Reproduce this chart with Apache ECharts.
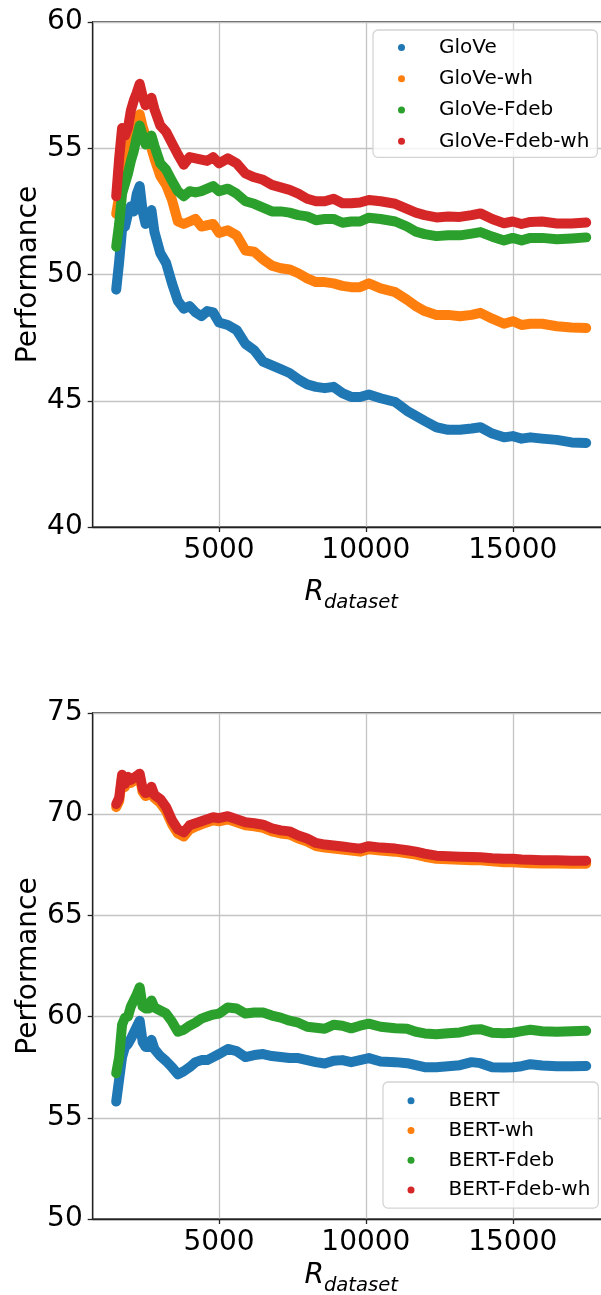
<!DOCTYPE html>
<html>
<head>
<meta charset="utf-8">
<script src="https://cdn.jsdelivr.net/npm/echarts@6/dist/echarts.min.js"></script>
<style>
  html, body { margin: 0; padding: 0; background: #fff; }
  #chart { width: 601px; height: 1295px; }
</style>
</head>
<body>
<div id="chart"></div>
<script>
// Running performance as the dataset grows (R_dataset on the x axis)
const rDataset = [1500, 1600, 1700, 1800, 1900, 2000, 2100, 2200, 2300, 2400, 2500, 2600, 2700, 2800,
  3000, 3200, 3400, 3600, 3800, 4000, 4200, 4400, 4600, 4800, 5000, 5300, 5600, 5900, 6200, 6500,
  6800, 7100, 7400, 7700, 8000, 8300, 8600, 8900, 9200, 9500, 9800, 10100, 10500, 11000, 11400,
  11700, 12000, 12400, 12800, 13200, 13600, 13900, 14300, 14700, 15000, 15300, 15600, 16000,
  16500, 17000, 17500];

// GloVe panel
const glove = [49.4, 50.5, 51.8, 51.9, 52.4, 52.7, 52.5, 53.2, 53.5, 52.5, 52.0, 52.2, 52.55, 51.7,
  50.85, 50.45, 49.65, 48.95, 48.65, 48.75, 48.5, 48.35, 48.55, 48.5, 48.1, 48.0, 47.8, 47.25, 47.0, 46.55,
  46.4, 46.25, 46.1, 45.85, 45.65, 45.55, 45.5, 45.55, 45.3, 45.15, 45.15, 45.25, 45.1, 44.95, 44.6,
  44.4, 44.2, 43.95, 43.85, 43.85, 43.9, 43.95, 43.7, 43.55, 43.6, 43.5, 43.55, 43.5,
  43.45, 43.35, 43.33];
const gloveWh = [52.4, 53.1, 53.8, 54.4, 55.0, 55.3, 55.7, 56.0, 56.35, 55.85, 55.5, 55.3, 55.0, 54.6,
  53.9, 53.55, 52.95, 52.1, 52.0, 52.1, 52.2, 51.9, 51.95, 52.0, 51.65, 51.75, 51.55, 50.95, 50.9, 50.6,
  50.35, 50.25, 50.2, 50.05, 49.85, 49.7, 49.7, 49.65, 49.55, 49.5, 49.5, 49.65, 49.45, 49.3, 49.0,
  48.75, 48.55, 48.4, 48.4, 48.35, 48.4, 48.48, 48.25, 48.05, 48.15, 48.0, 48.05, 48.05,
  47.95, 47.9, 47.88];
const gloveFdeb = [51.1, 52.0, 53.2, 53.6, 54.0, 54.5, 54.9, 55.45, 55.9, 55.5, 55.15, 55.2, 55.5, 55.1,
  54.4, 54.15, 53.7, 53.3, 53.1, 53.3, 53.25, 53.3, 53.4, 53.5, 53.3, 53.4, 53.2, 52.9, 52.8, 52.65,
  52.5, 52.5, 52.45, 52.35, 52.3, 52.15, 52.2, 52.2, 52.05, 52.1, 52.1, 52.25, 52.2, 52.1, 51.9,
  51.7, 51.6, 51.52, 51.55, 51.55, 51.62, 51.68, 51.5, 51.35, 51.45, 51.35, 51.45, 51.45,
  51.4, 51.43, 51.47];
const gloveFdebWh = [53.1, 54.6, 55.8, 55.5, 55.8, 56.5, 56.9, 57.2, 57.55, 57.05, 56.7, 56.8, 57.0, 56.55,
  55.9, 55.65, 55.2, 54.75, 54.35, 54.65, 54.6, 54.55, 54.5, 54.65, 54.4, 54.6, 54.4, 54.0, 53.85, 53.75,
  53.55, 53.45, 53.35, 53.2, 53.0, 52.9, 52.9, 53.0, 52.82, 52.82, 52.85, 52.95, 52.9, 52.8, 52.6,
  52.45, 52.35, 52.26, 52.3, 52.28, 52.35, 52.42, 52.2, 52.03, 52.1, 52.0, 52.08, 52.1,
  52.02, 52.02, 52.06];

// BERT panel
const bert = [55.8, 56.9, 58.0, 58.5, 58.65, 58.9, 59.2, 59.5, 59.8, 58.75, 58.5, 58.5, 58.85, 58.4,
  58.05, 57.8, 57.5, 57.15, 57.3, 57.5, 57.75, 57.85, 57.85, 58.0, 58.15, 58.4, 58.3, 58.0, 58.1, 58.15,
  58.05, 58.0, 57.95, 57.95, 57.85, 57.75, 57.68, 57.82, 57.85, 57.75, 57.85, 57.95, 57.78, 57.75, 57.7,
  57.6, 57.5, 57.5, 57.55, 57.6, 57.75, 57.7, 57.5, 57.48, 57.5, 57.55, 57.65, 57.58,
  57.55, 57.55, 57.56];
const bertWh = [70.35, 70.65, 71.8, 71.35, 71.7, 71.55, 71.65, 71.75, 71.85, 71.1, 70.9, 70.95, 71.2, 70.8,
  70.55, 70.15, 69.5, 69.05, 68.9, 69.25, 69.38, 69.5, 69.6, 69.7, 69.65, 69.75, 69.6, 69.45, 69.4, 69.33,
  69.15, 69.05, 69.0, 68.8, 68.65, 68.43, 68.35, 68.3, 68.25, 68.2, 68.15, 68.27, 68.2, 68.15, 68.07,
  68.0, 67.9, 67.8, 67.77, 67.75, 67.73, 67.72, 67.67, 67.63, 67.63, 67.6, 67.58, 67.57,
  67.56, 67.55, 67.55];
const bertFdeb = [57.2, 58.0, 59.6, 59.95, 60.0, 60.5, 60.8, 61.1, 61.45, 60.5, 60.4, 60.4, 60.8, 60.45,
  60.3, 60.15, 59.75, 59.25, 59.35, 59.55, 59.7, 59.9, 60.0, 60.1, 60.15, 60.45, 60.4, 60.15, 60.2, 60.2,
  60.05, 59.95, 59.8, 59.7, 59.5, 59.45, 59.4, 59.6, 59.55, 59.42, 59.55, 59.65, 59.5, 59.42, 59.4,
  59.25, 59.17, 59.13, 59.18, 59.22, 59.35, 59.38, 59.2, 59.18, 59.2, 59.28, 59.35, 59.28,
  59.25, 59.28, 59.3];
const bertFdebWh = [70.5, 70.8, 71.95, 71.5, 71.85, 71.7, 71.8, 71.9, 72.0, 71.25, 71.05, 71.1, 71.35, 70.95,
  70.75, 70.35, 69.7, 69.25, 69.1, 69.45, 69.55, 69.65, 69.75, 69.85, 69.8, 69.9, 69.75, 69.6, 69.55, 69.48,
  69.3, 69.2, 69.15, 68.95, 68.8, 68.58, 68.5, 68.45, 68.4, 68.35, 68.3, 68.42, 68.35, 68.3, 68.22,
  68.15, 68.05, 67.95, 67.92, 67.9, 67.88, 67.87, 67.82, 67.8, 67.8, 67.76, 67.75, 67.73,
  67.72, 67.7, 67.7];

const topNames = ['GloVe', 'GloVe-wh', 'GloVe-Fdeb', 'GloVe-Fdeb-wh'];
const bottomNames = ['BERT', 'BERT-wh', 'BERT-Fdeb', 'BERT-Fdeb-wh'];
const topValues = [glove, gloveWh, gloveFdeb, gloveFdebWh];
const bottomValues = [bert, bertWh, bertFdeb, bertFdebWh];
const xTicks = [5000, 10000, 15000];
const colors = ['#1f77b4', '#ff7f0e', '#2ca02c', '#d62728'];

const FONT = 'DejaVu Sans';
const spine = { color: '#222', width: 1.3 };

function xAxisFor(gridIndex, nameGap) {
  return {
    type: 'value', gridIndex, min: 700, max: 18300,
    axisLine: { show: true, onZero: false, lineStyle: spine },
    axisTick: { show: true, length: 5, customValues: xTicks, lineStyle: spine },
    axisLabel: { customValues: xTicks, formatter: v => String(v), fontSize: 28, color: '#000', margin: 10, fontFamily: FONT },
    splitLine: { show: true, lineStyle: { color: '#c4c4c4', width: 1.3 } },
    name: '{r|R}{s|dataset}', nameLocation: 'middle', nameGap,
    nameTextStyle: {
      rich: {
        r: { fontSize: 28, fontStyle: 'italic', fontFamily: FONT, color: '#000', lineHeight: 34, verticalAlign: 'top' },
        s: { fontSize: 19.6, fontStyle: 'italic', fontFamily: FONT, color: '#000', lineHeight: 34, verticalAlign: 'bottom' }
      }
    }
  };
}

function yAxisFor(gridIndex, min, max) {
  return {
    type: 'value', gridIndex, min, max, interval: 5,
    axisLine: { show: true, onZero: false, lineStyle: spine },
    axisTick: { show: true, length: 5, lineStyle: spine },
    axisLabel: { fontSize: 28, color: '#000', margin: 10, fontFamily: FONT },
    splitLine: { show: true, lineStyle: { color: '#c4c4c4', width: 1.3 } },
    name: 'Performance', nameLocation: 'middle', nameGap: 50, nameMoveOverlap: false,
    nameTextStyle: { fontSize: 28, color: '#000', fontFamily: FONT }
  };
}

function legendFor(names, left, top, pad, gap) {
  return {
    orient: 'vertical', left, top, data: names, icon: 'circle',
    itemWidth: 7, itemHeight: 7, itemGap: gap, padding: pad,
    backgroundColor: 'rgba(255,255,255,0.8)', borderColor: '#d4d4d4', borderWidth: 1.3, borderRadius: 5,
    textStyle: { fontSize: 20, fontFamily: FONT, color: '#000', lineHeight: 24, padding: [0, 0, 0, 29] },
    selectedMode: false
  };
}

function buildSeries(names, values, axisIndex) {
  return names.map((name, i) => ({
    name, type: 'line', xAxisIndex: axisIndex, yAxisIndex: axisIndex,
    data: rDataset.map((x, k) => [x, values[i][k]]),
    showSymbol: false, symbol: 'circle', color: colors[i],
    lineStyle: { width: 10, color: colors[i], cap: 'round', join: 'round' },
    emphasis: { disabled: true }, z: 2 + i
  }));
}

const gridBase = {
  left: 92.7, width: 517, show: true, borderColor: '#222', borderWidth: 1.3,
  backgroundColor: 'transparent', containLabel: false, outerBoundsMode: 'none'
};

const chart = echarts.init(document.getElementById('chart'), null, { renderer: 'canvas' });
chart.setOption({
  animation: false,
  backgroundColor: '#fff',
  grid: [
    Object.assign({}, gridBase, { top: 22, height: 505 }),
    Object.assign({}, gridBase, { top: 713, height: 506 })
  ],
  xAxis: [xAxisFor(0, 52), xAxisFor(1, 43)],
  yAxis: [yAxisFor(0, 40, 60), yAxisFor(1, 50, 75)],
  legend: [
    legendFor(topNames, 373, 30, [5.4, 8, 4, 25], 7.3),
    legendFor(bottomNames, 383, 1082, [6.7, 8, 6, 24.5], 5.8)
  ],
  series: [...buildSeries(topNames, topValues, 0), ...buildSeries(bottomNames, bottomValues, 1)]
});
</script>
</body>
</html>
